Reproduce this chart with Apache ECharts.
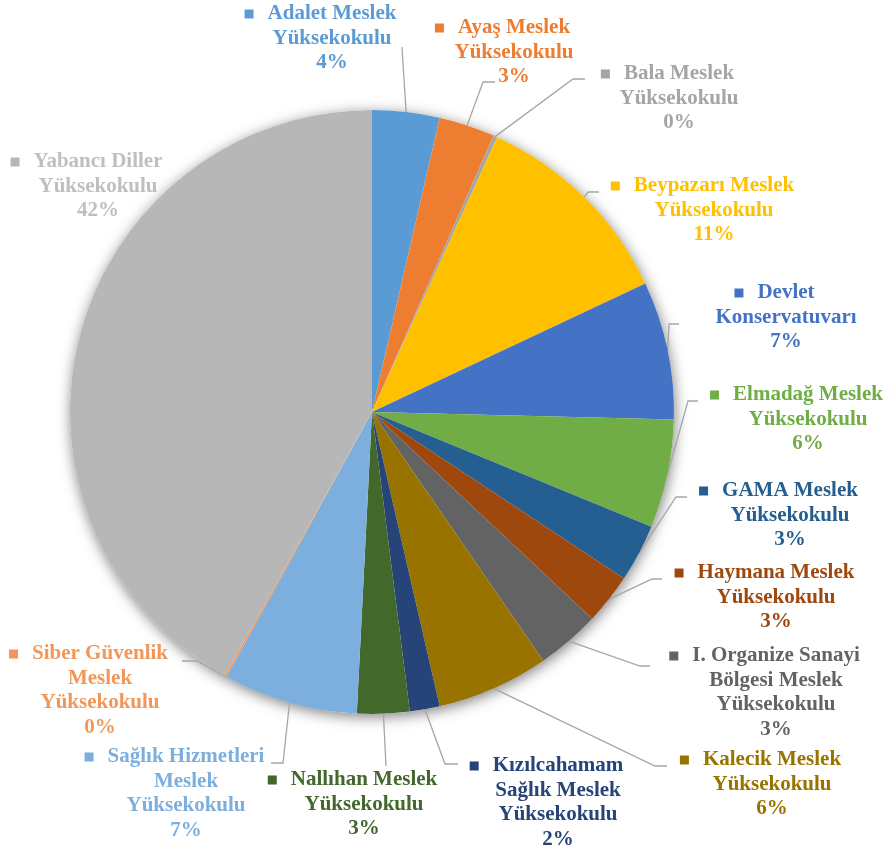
<!DOCTYPE html>
<html>
<head>
<meta charset="utf-8">
<script src="https://cdn.jsdelivr.net/npm/echarts@6/dist/echarts.min.js"></script>
<style>
  html, body { margin: 0; padding: 0; background: #ffffff; }
  #chart { width: 890px; height: 847px; }
</style>
</head>
<body>
<div id="chart"></div>
<script>
// ---- data ----
const categories = [
  'Adalet Meslek\nYüksekokulu',
  'Ayaş Meslek\nYüksekokulu',
  'Bala Meslek\nYüksekokulu',
  'Beypazarı Meslek\nYüksekokulu',
  'Devlet\nKonservatuvarı',
  'Elmadağ Meslek\nYüksekokulu',
  'GAMA Meslek\nYüksekokulu',
  'Haymana Meslek\nYüksekokulu',
  'I. Organize Sanayi\nBölgesi Meslek\nYüksekokulu',
  'Kalecik Meslek\nYüksekokulu',
  'Kızılcahamam\nSağlık Meslek\nYüksekokulu',
  'Nallıhan Meslek\nYüksekokulu',
  'Sağlık Hizmetleri\nMeslek\nYüksekokulu',
  'Siber Güvenlik\nMeslek\nYüksekokulu',
  'Yabancı Diller\nYüksekokulu'
];
const values = [3.6, 3.0, 0.2, 11.2, 7.4, 5.8, 3.1, 2.7, 3.4, 6.0, 1.6, 2.8, 7.2, 0.1, 41.9];

// ---- styles / layout (kept separate from data) ----
const colors = ['#5B9BD5', '#ED7D31', '#A5A5A5', '#FFC000', '#4472C4', '#70AD47', '#255E91',
  '#9E480E', '#636363', '#997300', '#264478', '#43682B', '#7CAFDD', '#F1975A', '#B7B7B7'];
const textColors = ['#5B9BD5', '#ED7D31', '#A5A5A5', '#FFC000', '#4472C4', '#70AD47', '#255E91',
  '#9E480E', '#636363', '#997300', '#264478', '#43682B', '#7CAFDD', '#F1975A', '#BFBFBF'];
// text block centre x, first-line centre y
const labelPos = [[332, 14], [514, 28], [679, 74], [714, 186], [786, 293], [808, 395], [790, 491],
  [776, 573], [776, 656], [772, 760], [558, 766], [364, 780], [186, 757], [100, 654], [98, 162]];
// label line elbow and end points
const labelBends = [
  [[402, 47], [402, 47]], [[483, 82], [495, 82]], [[573, 79], [585, 79]], [[588, 192], [599, 192]],
  [[669, 324], [679, 324]], [[688, 401], [698, 401]], [[676, 497], [687, 497]], [[652, 579], [662, 579]],
  [[640, 666], [650, 666]], [[655, 766], [667, 766]], [[445, 764], [458, 764]], [[386, 766], [386, 766]],
  [[283, 763], [271, 763]], [[197, 661], [182, 661]], null
];

const FONT = '"Liberation Serif", "Times New Roman", serif';
const FS = 21, LH = 24.5, SQ = 9, GAP = 14;
const total = values.reduce((a, b) => a + b, 0);

const data = categories.map((name, i) => ({
  name: name,
  value: values[i],
  itemStyle: { color: colors[i] },
  labelLine: { show: labelBends[i] !== null },
  label: {
    rich: {
      sq: { width: SQ, height: SQ, backgroundColor: colors[i] },
      gap: { width: GAP },
      pad: { width: SQ + GAP },
      t: { fontFamily: FONT, fontWeight: 'bold', fontSize: FS, lineHeight: LH, color: textColors[i], align: 'center' }
    }
  }
}));

const chart = echarts.init(document.getElementById('chart'), null, { renderer: 'canvas' });
chart.setOption({
  animation: false,
  backgroundColor: '#ffffff',
  series: [
    {
      type: 'pie',
      silent: true,
      z: 1,
      center: [372, 412],
      radius: 302,
      label: { show: false },
      labelLine: { show: false },
      itemStyle: { color: '#ffffff', shadowBlur: 14, shadowColor: 'rgba(0,0,0,0.5)', shadowOffsetX: 1, shadowOffsetY: 3 },
      data: [{ value: 1, name: '' }]
    },
    {
      type: 'pie',
      z: 2,
      center: [372, 412],
      radius: 302,
      startAngle: 90,
      clockwise: true,
      avoidLabelOverlap: false,
      itemStyle: { borderWidth: 0 },
      label: {
        show: true,
        position: 'outside',
        formatter: function (p) {
          const lines = p.name.split('\n');
          const pct = Math.round(p.value / total * 100) + '%';
          const out = ['{sq|}{gap|}{t|' + lines[0] + '}{pad|}'];
          for (let k = 1; k < lines.length; k++) out.push('{t|' + lines[k] + '}');
          out.push('{t|' + pct + '}');
          return out.join('\n');
        }
      },
      labelLine: {
        show: true,
        length: 20,
        length2: 10,
        lineStyle: { color: '#A6A6A6', width: 1.3 }
      },
      labelLayout: function (params) {
        const i = params.dataIndex;
        const pos = labelPos[i];
        const res = { x: pos[0], y: pos[1] - LH / 2, align: 'center', verticalAlign: 'top' };
        const bend = labelBends[i];
        if (bend && params.labelLinePoints) {
          res.labelLinePoints = [params.labelLinePoints[0], bend[0], bend[1]];
        }
        return res;
      },
      data: data
    }
  ]
});
</script>
</body>
</html>
